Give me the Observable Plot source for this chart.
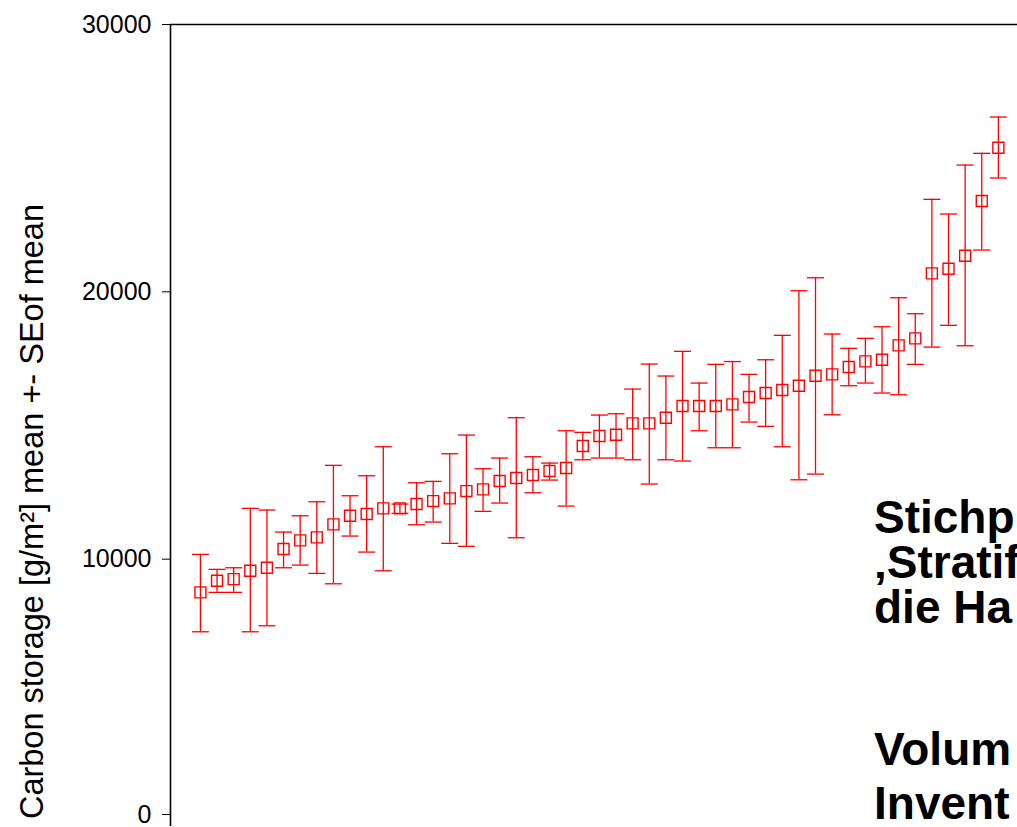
<!DOCTYPE html>
<html><head><meta charset="utf-8">
<script src="https://cdn.jsdelivr.net/npm/d3@7"></script>
<script src="https://cdn.jsdelivr.net/npm/@observablehq/plot@0.6"></script>
<style>
html,body{margin:0;padding:0;background:#fff;overflow:hidden;width:1017px;height:827px;}
#chart{position:absolute;left:0;top:0;}
</style></head><body>
<div id="chart"></div>
<script>
// Mean carbon storage per plot (sorted), with upper/lower SE bounds [g/m²]
const meanValues = [8758, 9192, 9255, 9566, 9678, 10378, 10703, 10815, 11302, 11623, 11687, 11900, 11900, 12061, 12173, 12274, 12547, 12611, 12922, 13034, 13146, 13296, 13408, 14231, 14605, 14654, 15080, 15080, 15290, 15727, 15727, 15727, 15791, 16064, 16214, 16326, 16487, 16861, 16913, 17186, 17399, 17459, 17998, 18260, 20692, 20864, 21350, 23396, 25390];
const upperValues = [10179, 9618, 9678, 11900, 11837, 11013, 11623, 12147, 13509, 12372, 13120, 14205, 12061, 12858, 12910, 13943, 14642, 13382, 13782, 15290, 13831, 13595, 14803, 14743, 15391, 15439, 16363, 17298, 16850, 17773, 16588, 17287, 17392, 16913, 17459, 18372, 20041, 20527, 18421, 17886, 18260, 18694, 19779, 19180, 23460, 22910, 24743, 25181, 26539];
const lowerValues = [7284, 8758, 8758, 7284, 7508, 9678, 9779, 9468, 9079, 10864, 10265, 9566, 11713, 11287, 11388, 10591, 10479, 11788, 12099, 10800, 12484, 12959, 11986, 13718, 13782, 13782, 13718, 12809, 13718, 13670, 14803, 14167, 14167, 15129, 14968, 14205, 12970, 13183, 15402, 16487, 16588, 16214, 16150, 17287, 17934, 18746, 17983, 21563, 24257];
const yTicks = [0, 10000, 20000, 30000];
const yTitle = "Carbon storage [g/m²] mean +- SEof mean";
const noteLines = ["Stichp", "\u201aStratif", "die Ha", "Volum", "Invent"];

const data = meanValues.map((m, k) => ({i: k + 1, mean: m, hi: upperValues[k], lo: lowerValues[k]}));

const capSymbol = {draw(ctx) { ctx.moveTo(-8.5, 0); ctx.lineTo(8.5, 0); }};
const red = "#ff0000";
const xDomain = [-0.8, 50.15];

const plot = Plot.plot({
  width: 1017, height: 827,
  marginLeft: 170, marginRight: 0, marginTop: 24, marginBottom: 1,
  style: {fontFamily: '"Liberation Sans", Arial, sans-serif', fontSize: "25px", color: "#000", background: "transparent", overflow: "hidden"},
  x: {domain: xDomain, axis: null},
  y: {domain: [0, 30000], axis: null},
  marks: [
    Plot.axisY({ticks: yTicks.slice(1), tickSize: 8, tickPadding: 11, tickFormat: d => String(d), label: null, fontSize: 25}),
    Plot.axisY({ticks: [yTicks[0]], tickSize: 8, tickPadding: 11, tickFormat: d => String(d), label: null, fontSize: 25, dy: -12}),
    Plot.ruleY([yTicks[3]], {stroke: "#000", strokeWidth: 1.3}),
    Plot.ruleX([xDomain[0]], {stroke: "#000", strokeWidth: 1.6}),
    Plot.ruleX(data, {x: "i", y1: "lo", y2: "hi", stroke: red, strokeWidth: 1.3}),
    Plot.dot(data, {x: "i", y: "hi", symbol: capSymbol, stroke: red, strokeWidth: 1.3}),
    Plot.dot(data, {x: "i", y: "lo", symbol: capSymbol, stroke: red, strokeWidth: 1.3}),
    Plot.dot(data, {x: "i", y: "mean", symbol: "square", r: 6.2, stroke: red, fill: "none", strokeWidth: 1.4})
  ]
});

const svg = d3.select(plot);
svg.append("text")
  .attr("transform", "translate(43,204) rotate(-90)")
  .attr("text-anchor", "end")
  .attr("fill", "#000")
  .style("font-family", '"Liberation Sans", Arial, sans-serif')
  .style("font-size", "32.5px")
  .text(yTitle);

const noteY = [533, 578, 623, 765, 819];
noteLines.forEach((t, k) => {
  svg.append("text")
    .attr("x", 874)
    .attr("y", noteY[k])
    .attr("text-anchor", "start")
    .attr("fill", "#000")
    .style("font-family", '"Liberation Sans", Arial, sans-serif')
    .style("font-weight", "bold")
    .style("font-size", "46px")
    .text(t);
});

document.getElementById("chart").appendChild(plot);
</script>
</body></html>
